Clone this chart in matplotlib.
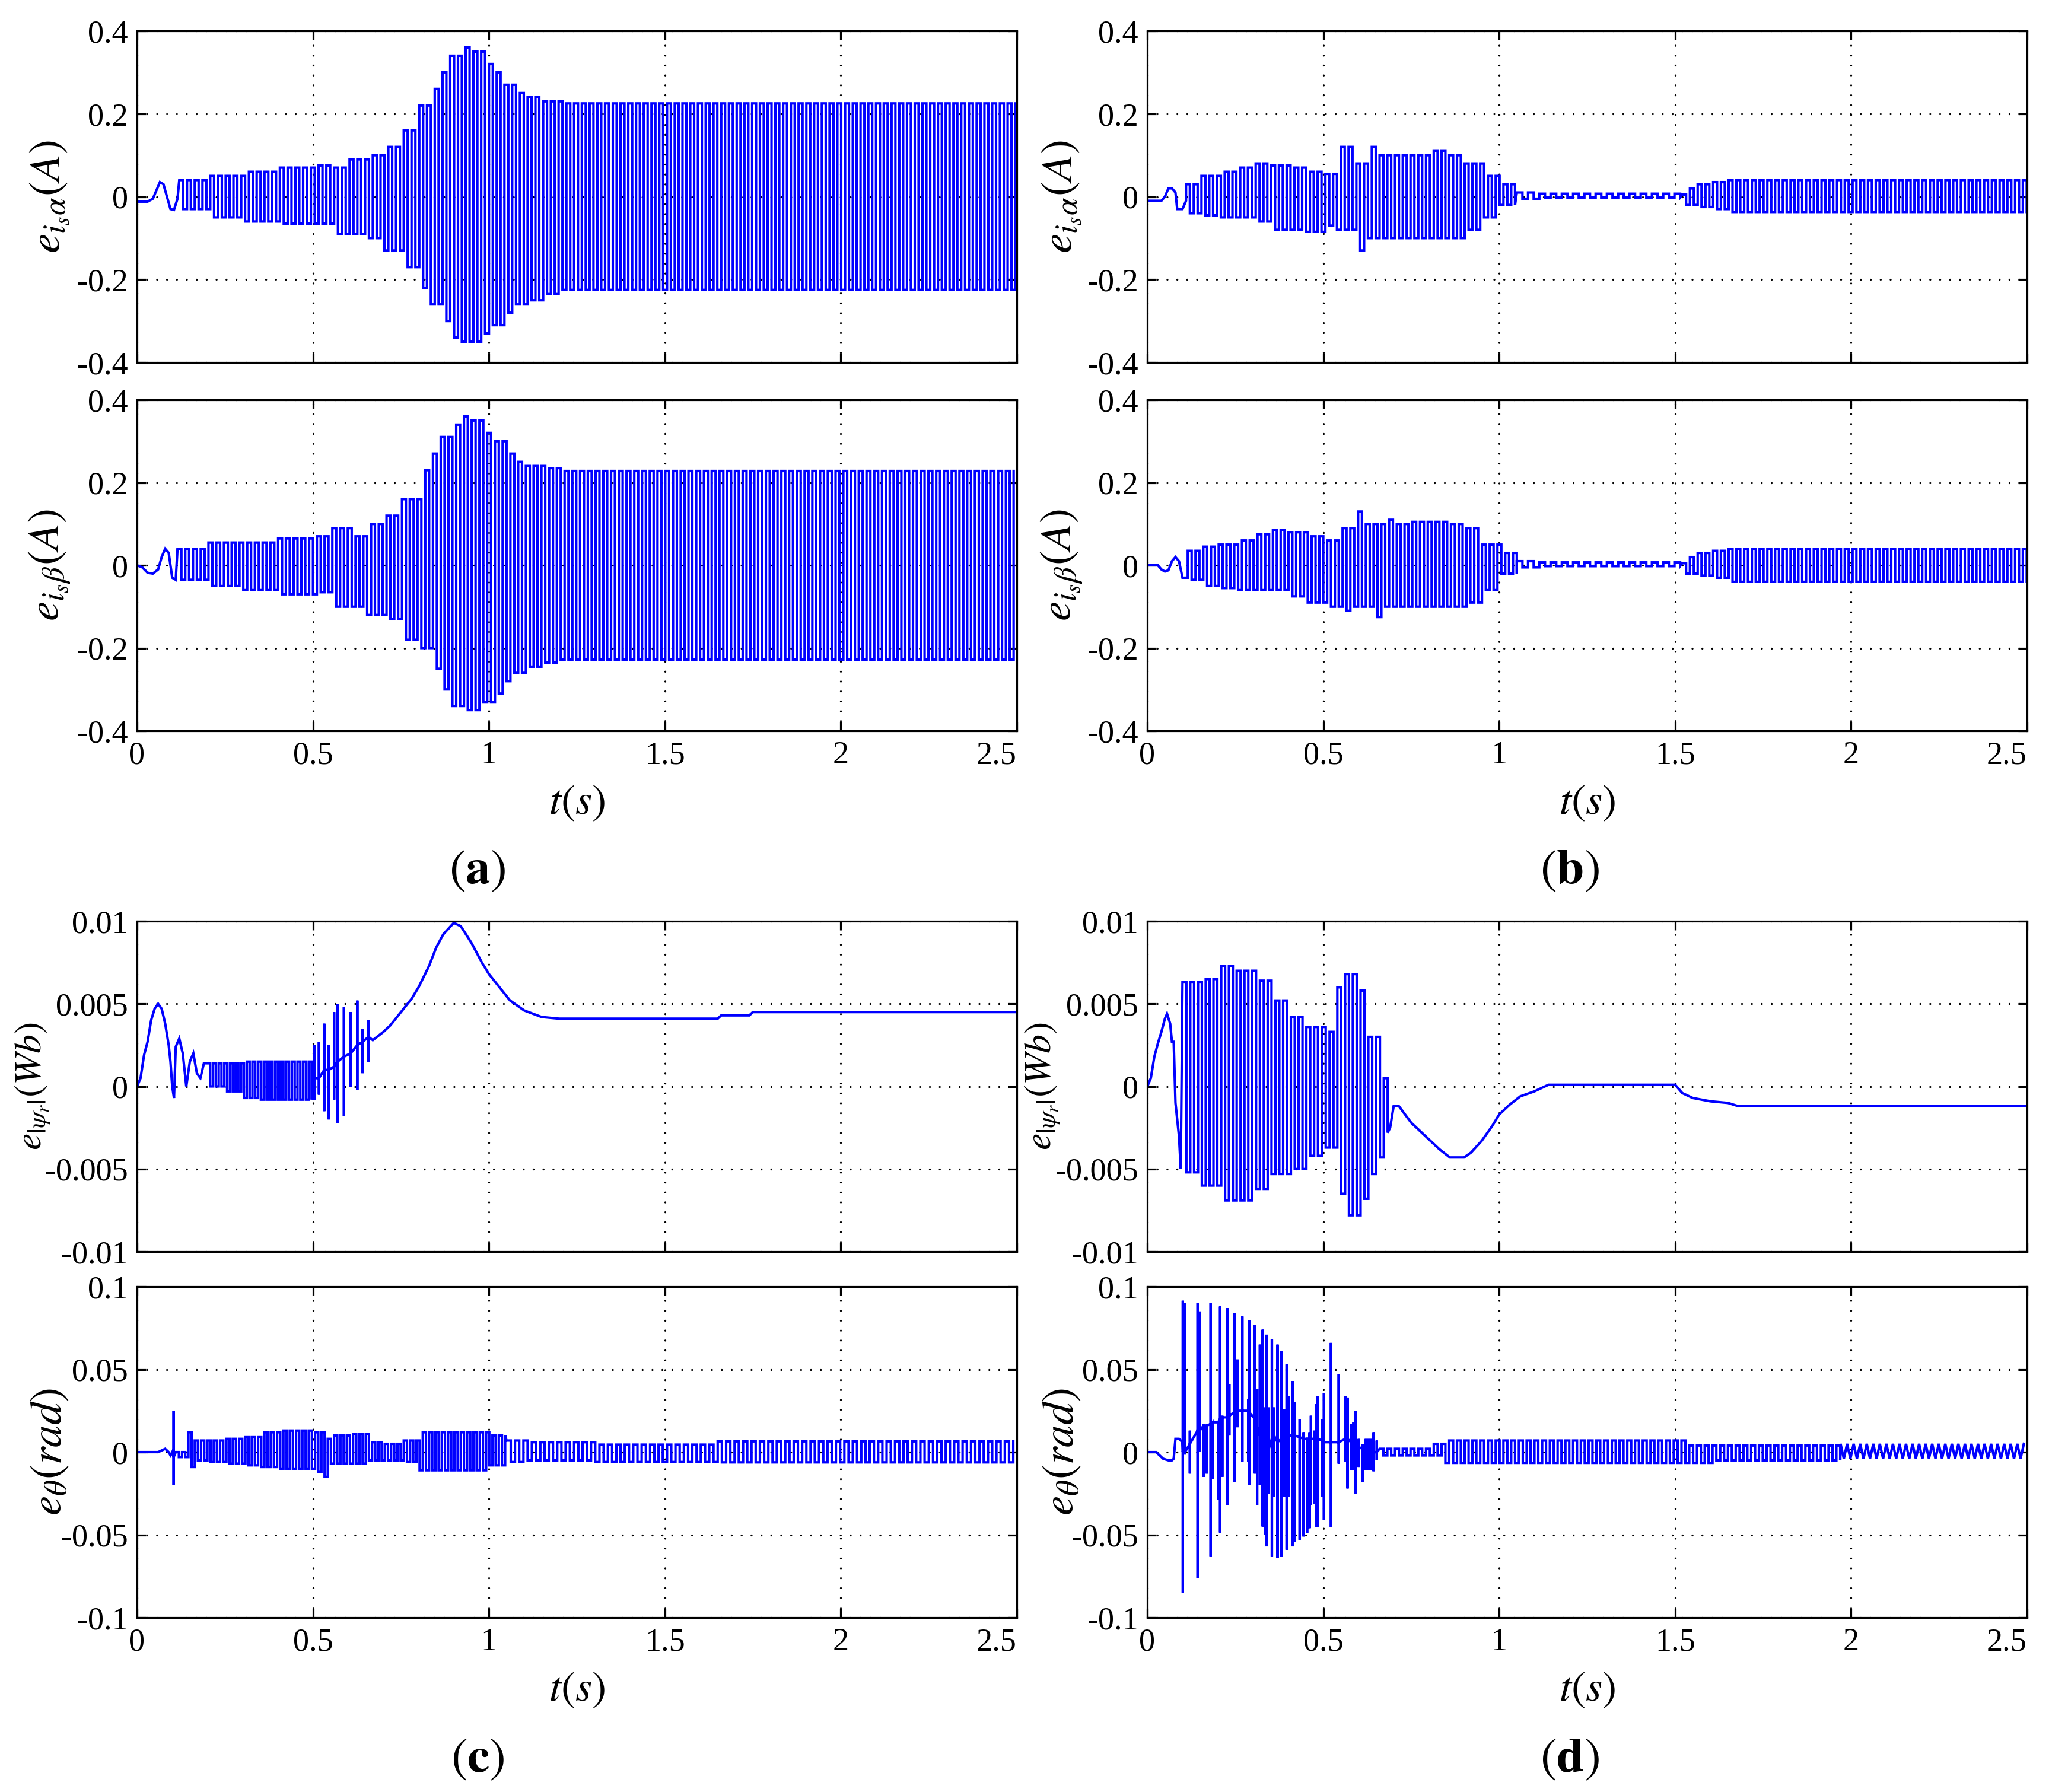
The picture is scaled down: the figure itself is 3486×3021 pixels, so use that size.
import numpy as np
import matplotlib.pyplot as plt

plt.rcParams['font.family'] = ['Liberation Serif', 'DejaVu Serif']
plt.rcParams['mathtext.fontset'] = 'stix'

# ---------------- axis ticks ----------------
t_ticks = [0, 0.5, 1, 1.5, 2, 2.5]
t_ticklabels = ['0', '0.5', '1', '1.5', '2', '2.5']
i_ticks = [-0.4, -0.2, 0, 0.2, 0.4]
i_ticklabels = ['-0.4', '-0.2', '0', '0.2', '0.4']
psi_ticks = [-0.01, -0.005, 0, 0.005, 0.01]
psi_ticklabels = ['-0.01', '-0.005', '0', '0.005', '0.01']
th_ticks = [-0.1, -0.05, 0, 0.05, 0.1]
th_ticklabels = ['-0.1', '-0.05', '0', '0.05', '0.1']

# ---------------- (a) e_i_s_alpha ----------------
a1_pre_t = [0, 0.03, 0.045, 0.055, 0.065, 0.075, 0.085, 0.095, 0.105, 0.115]
a1_pre_y = [-0.012, -0.012, -0.005, 0.015, 0.035, 0.03, 0.0, -0.03, -0.032, -0.005]
a1_env_t = [0.12, 0.2, 0.3, 0.4, 0.5, 0.55, 0.6, 0.65, 0.7, 0.75, 0.8, 0.83, 0.86,
            0.89, 0.92, 0.95, 0.98, 1.01, 1.04, 1.07, 1.1, 1.15, 1.2]
a1_env_hi = [0.04, 0.05, 0.06, 0.07, 0.075, 0.07, 0.09, 0.1, 0.12, 0.16, 0.22, 0.26, 0.3,
             0.34, 0.36, 0.35, 0.32, 0.3, 0.27, 0.25, 0.24, 0.23, 0.225]
a1_env_lo = [-0.03, -0.05, -0.06, -0.065, -0.065, -0.09, -0.09, -0.1, -0.13, -0.17, -0.22,
             -0.26, -0.3, -0.34, -0.35, -0.35, -0.33, -0.31, -0.28, -0.26, -0.25, -0.235, -0.225]

# ---------------- (a) e_i_s_beta ----------------
a2_pre_t = [0, 0.015, 0.03, 0.045, 0.06, 0.07, 0.08, 0.09, 0.1, 0.11]
a2_pre_y = [0.0, -0.005, -0.018, -0.02, -0.01, 0.02, 0.04, 0.03, -0.03, -0.035]
a2_env_t = [0.12, 0.2, 0.3, 0.4, 0.5, 0.55, 0.6, 0.65, 0.7, 0.75, 0.8, 0.83, 0.86,
            0.89, 0.92, 0.95, 0.98, 1.01, 1.04, 1.07, 1.1, 1.15, 1.2]
a2_env_hi = [0.04, 0.055, 0.055, 0.065, 0.07, 0.09, 0.07, 0.1, 0.12, 0.16, 0.23, 0.27, 0.31,
             0.34, 0.36, 0.35, 0.32, 0.3, 0.27, 0.25, 0.24, 0.235, 0.228]
a2_env_lo = [-0.035, -0.05, -0.06, -0.07, -0.065, -0.1, -0.1, -0.12, -0.13, -0.18, -0.2,
             -0.25, -0.3, -0.34, -0.35, -0.35, -0.33, -0.31, -0.28, -0.26, -0.245, -0.235, -0.228]

# ---------------- (b) e_i_s_alpha ----------------
b1_pre_t = [0, 0.04, 0.05, 0.06, 0.07, 0.08, 0.085, 0.1, 0.11]
b1_pre_y = [-0.01, -0.01, 0.0, 0.02, 0.02, 0.01, -0.03, -0.03, -0.01]
b1_env_t = [0.11, 0.15, 0.2, 0.25, 0.3, 0.35, 0.4, 0.45, 0.5, 0.53, 0.59, 0.62, 0.65,
            0.7, 0.75, 0.8, 0.85, 0.9, 0.95, 1.0, 1.05, 1.1, 1.5, 1.53, 1.56, 1.6, 1.65]
b1_env_hi = [0.03, 0.05, 0.06, 0.07, 0.08, 0.075, 0.07, 0.06, 0.055, 0.12, 0.08, 0.12, 0.1,
             0.1, 0.1, 0.11, 0.1, 0.08, 0.05, 0.03, 0.01, 0.007, 0.005, 0.02, 0.03, 0.035, 0.04]
b1_env_lo = [-0.04, -0.045, -0.05, -0.05, -0.06, -0.08, -0.08, -0.085, -0.07, -0.08, -0.13,
             -0.1, -0.1, -0.1, -0.1, -0.1, -0.1, -0.08, -0.05, -0.02, -0.005, -0.002, -0.002,
             -0.02, -0.025, -0.03, -0.037]

# ---------------- (b) e_i_s_beta ----------------
b2_pre_t = [0, 0.03, 0.04, 0.05, 0.06, 0.07, 0.08, 0.09, 0.1, 0.115]
b2_pre_y = [0.0, 0.0, -0.01, -0.015, -0.012, 0.01, 0.02, 0.01, -0.03, -0.03]
b2_env_t = [0.12, 0.15, 0.2, 0.25, 0.3, 0.35, 0.4, 0.45, 0.5, 0.55, 0.58, 0.61, 0.64,
            0.67, 0.7, 0.75, 0.8, 0.85, 0.9, 0.95, 1.0, 1.05, 1.1, 1.5, 1.53, 1.56, 1.6, 1.65]
b2_env_hi = [0.035, 0.045, 0.05, 0.06, 0.075, 0.085, 0.08, 0.07, 0.06, 0.09, 0.13, 0.1, 0.1,
             0.11, 0.1, 0.105, 0.105, 0.1, 0.09, 0.05, 0.03, 0.01, 0.007, 0.005, 0.02, 0.03,
             0.035, 0.04]
b2_env_lo = [-0.035, -0.05, -0.055, -0.06, -0.06, -0.06, -0.075, -0.09, -0.1, -0.11, -0.1,
             -0.1, -0.125, -0.1, -0.1, -0.1, -0.1, -0.1, -0.09, -0.06, -0.02, -0.005, -0.002,
             -0.002, -0.02, -0.025, -0.03, -0.04]

# ---------------- (c) e_|psi_r| ----------------
c1_pre_t = [0, 0.01, 0.02, 0.03, 0.04, 0.05, 0.06, 0.07, 0.08, 0.09, 0.095, 0.1, 0.105,
            0.11, 0.12, 0.13, 0.14, 0.15, 0.16, 0.17, 0.18, 0.19]
c1_pre_y = [0.0, 0.0005, 0.0019, 0.0027, 0.004, 0.0047, 0.005, 0.0047, 0.0038, 0.0025,
            0.0015, 0.0, -0.0007, 0.0024, 0.0029, 0.002, 0.0, 0.0015, 0.002, 0.0008, 0.0005,
            0.0014]
c1_env_t = [0.2, 0.25, 0.3, 0.35, 0.4, 0.45]
c1_env_hi = [0.0014, 0.0014, 0.0015, 0.0015, 0.0015, 0.0015]
c1_env_lo = [0.0, -0.0003, -0.0007, -0.0008, -0.0008, -0.0008]
c1_sp_t = [0.504, 0.517, 0.532, 0.545, 0.56, 0.57, 0.588, 0.607, 0.626, 0.641, 0.658]
c1_sp_hi = [0.0025, 0.0027, 0.0038, 0.0025, 0.0045, 0.005, 0.0048, 0.0045, 0.0052, 0.0035, 0.004]
c1_sp_lo = [-0.0008, -0.0005, -0.0015, -0.002, -0.0008, -0.0022, -0.0018, 0.0, -0.0002,
            0.0008, 0.0015]
c1_sp_mid = [0.0005, 0.0005, 0.001, 0.001, 0.0012, 0.0015, 0.0018, 0.002, 0.0025, 0.0027, 0.003]
c1_post_t = [0.67, 0.7, 0.72, 0.75, 0.78, 0.8, 0.83, 0.85, 0.87, 0.9, 0.92, 0.95, 0.98, 1.0,
             1.03, 1.06, 1.1, 1.15, 1.2, 1.5, 1.65, 1.66, 1.74, 1.75, 2.5]
c1_post_y = [0.0028, 0.0033, 0.0037, 0.0045, 0.0053, 0.006, 0.0073, 0.0084, 0.0092, 0.0099,
             0.0097, 0.0087, 0.0075, 0.0068, 0.006, 0.0052, 0.0046, 0.0042, 0.0041, 0.0041,
             0.0041, 0.0043, 0.0043, 0.0045, 0.0045]

# ---------------- (c) e_theta ----------------
c2_pre_t = [0, 0.06, 0.07, 0.08, 0.09, 0.095, 0.1]
c2_pre_y = [0, 0, 0.001, 0.002, 0.0, -0.002, 0.0]
c2_sp_t = [0.104]
c2_sp_hi = [0.025]
c2_sp_lo = [-0.02]
c2_sp_mid = [-0.003]
c2_env_t = [0.11, 0.14, 0.16, 0.2, 0.25, 0.3, 0.35, 0.4, 0.45, 0.5, 0.53, 0.55, 0.6, 0.65,
            0.7, 0.75, 0.8, 0.85, 0.9, 0.95, 1.0, 1.05, 1.1, 1.3, 1.6, 1.65]
c2_env_hi = [0.0, 0.012, 0.007, 0.007, 0.008, 0.009, 0.012, 0.013, 0.013, 0.012, 0.008, 0.01,
             0.011, 0.006, 0.005, 0.007, 0.012, 0.012, 0.012, 0.012, 0.01, 0.007, 0.006,
             0.0045, 0.0045, 0.0065]
c2_env_lo = [-0.003, -0.009, -0.005, -0.006, -0.007, -0.008, -0.009, -0.01, -0.01, -0.012,
             -0.015, -0.007, -0.007, -0.005, -0.005, -0.006, -0.011, -0.011, -0.011, -0.011,
             -0.008, -0.006, -0.005, -0.006, -0.006, -0.0062]

# ---------------- (d) e_|psi_r| ----------------
d1_pre_t = [0, 0.01, 0.02, 0.03, 0.04, 0.05, 0.056, 0.065, 0.07, 0.075, 0.08, 0.09, 0.095]
d1_pre_y = [0.0, 0.0005, 0.0018, 0.0026, 0.0033, 0.0041, 0.0044, 0.0038, 0.0027, 0.0027,
            -0.001, -0.003, -0.005]
d1_env_t = [0.1, 0.15, 0.2, 0.25, 0.3, 0.35, 0.4, 0.45, 0.5, 0.53, 0.56, 0.6, 0.625, 0.65, 0.67]
d1_env_hi = [0.0063, 0.0065, 0.0073, 0.007, 0.0064, 0.0052, 0.0042, 0.0036, 0.0033, 0.006,
             0.0068, 0.0058, 0.003, 0.0028, 0.0005]
d1_env_lo = [-0.0052, -0.006, -0.0069, -0.0069, -0.0062, -0.0053, -0.005, -0.0042, -0.0037,
             -0.0065, -0.0078, -0.0068, -0.0053, -0.0043, -0.0028]
d1_post_t = [0.69, 0.7, 0.715, 0.75, 0.8, 0.83, 0.86, 0.9, 0.92, 0.95, 0.98, 1.0, 1.03, 1.06,
             1.1, 1.14, 1.5, 1.52, 1.55, 1.6, 1.65, 1.68, 2.5]
d1_post_y = [-0.0025, -0.0012, -0.0012, -0.0022, -0.0032, -0.0038, -0.0043, -0.0043, -0.004,
             -0.0033, -0.0024, -0.0017, -0.0011, -0.0006, -0.0003, 0.0001, 0.0001, -0.0004,
             -0.0007, -0.0009, -0.001, -0.0012, -0.0012]

# ---------------- (d) e_theta ----------------
d2_pre_t = [0, 0.025, 0.035, 0.045, 0.06, 0.07, 0.075, 0.08, 0.09, 0.1]
d2_pre_y = [0, 0, -0.002, -0.004, -0.005, -0.005, -0.004, 0.008, 0.008, 0.006]
d2_sp_t = [0.101, 0.107, 0.121, 0.143, 0.149, 0.16, 0.169, 0.18, 0.185, 0.201,
           0.207, 0.213, 0.228, 0.233, 0.247, 0.256, 0.27, 0.287, 0.29, 0.306,
           0.312, 0.32, 0.328, 0.334, 0.339, 0.345, 0.354, 0.36, 0.37, 0.381,
           0.389, 0.396, 0.402, 0.413, 0.419, 0.433, 0.444, 0.454, 0.461, 0.465,
           0.475, 0.48, 0.484, 0.497, 0.502, 0.522, 0.544, 0.563, 0.569, 0.579,
           0.586, 0.591, 0.601, 0.612, 0.621, 0.628, 0.635, 0.643, 0.652]
d2_sp_hi = [0.0915, 0.09, 0.013, 0.09, 0.085, 0.017, 0.016, 0.09, 0.018, 0.018,
            0.088, 0.022, 0.087, 0.041, 0.084, 0.056, 0.082, 0.032, 0.0795, 0.077,
            0.038, 0.065, 0.074, 0.027, 0.071, 0.027, 0.068, 0.027, 0.065, 0.061,
            0.026, 0.053, 0.034, 0.043, 0.03, 0.02, 0.012, 0.0, 0.012, 0.022,
            0.013, 0.029, 0.034, 0.02, 0.0356, 0.066, 0.047, 0.034, 0.033, 0.017,
            0.018, 0.025, 0.008, 0.005, 0.008, 0.008, 0.008, 0.012, 0.007]
d2_sp_lo = [-0.085, -0.0015, -0.013, -0.076, 0.0, -0.015, -0.013, -0.063, -0.016, -0.0285,
            -0.0486, -0.015, -0.032, 0.01, -0.018, 0.015, -0.006, -0.006, -0.02, -0.013,
            -0.032, -0.02, -0.045, -0.05, -0.057, -0.025, -0.063, -0.027, -0.064, -0.063,
            -0.027, -0.059, -0.027, -0.057, -0.054, -0.053, -0.051, -0.049, -0.046, -0.032,
            -0.031, -0.045, -0.045, -0.027, -0.041, -0.0455, -0.007, -0.006, -0.022, -0.011,
            -0.011, -0.025, -0.009, -0.018, -0.011, -0.011, -0.011, -0.0116, -0.005]
d2_sp_mid = [0.0, 0.0, 0.005, 0.013, 0.013, 0.016, 0.016, 0.017, 0.018, 0.018,
             0.02, 0.021, 0.021, 0.022, 0.024, 0.025, 0.025, 0.025, 0.024, 0.02,
             0.015, 0.01, 0.005, 0.0, 0.005, 0.002, 0.008, 0.01, 0.006, 0.008,
             0.01, 0.01, 0.01, 0.01, 0.01, 0.009, 0.008, 0.008, 0.008, 0.008,
             0.008, 0.008, 0.008, 0.007, 0.006, 0.006, 0.006, 0.008, 0.008, 0.006,
             0.006, 0.005, 0.003, 0.002, 0.0, 0.0, 0.0, 0.0, 0.0]
d2_env_t = [0.66, 0.81, 0.845, 1.52, 1.6, 1.97]
d2_env_hi = [0.002, 0.005, 0.007, 0.004, 0.004, 0.005]
d2_env_lo = [-0.002, -0.002, -0.0065, -0.0065, -0.005, -0.004]


def env_levels(env_t, env_hi, env_lo, t0, t1, step):
    # switching instants of the ripple; each takes the envelope value read for its interval
    s = np.arange(t0, t1, step)
    k = np.clip(np.searchsorted(env_t, s, side='right') - 1, 0, len(env_t) - 1)
    lvl = np.where(np.arange(s.size) % 2 == 0, np.take(env_hi, k), np.take(env_lo, k))
    return s, lvl


def square(env_t, env_hi, env_lo, t0, t1, step):
    s, lvl = env_levels(env_t, env_hi, env_lo, t0, t1, step)
    return np.repeat(s, 2)[1:], np.repeat(lvl, 2)[:-1]


def zigzag(env_t, env_hi, env_lo, t0, t1, step):
    return env_levels(env_t, env_hi, env_lo, t0, t1, step)


def spikes(t, hi, lo, mid):
    return np.repeat(t, 4), np.column_stack([mid, hi, lo, mid]).ravel()


def join(*parts):
    return (np.concatenate([np.asarray(p[0], float) for p in parts]),
            np.concatenate([np.asarray(p[1], float) for p in parts]))


sig_a1 = join((a1_pre_t, a1_pre_y), square(a1_env_t, a1_env_hi, a1_env_lo, 0.12, 2.5, 0.011))
sig_a2 = join((a2_pre_t, a2_pre_y), square(a2_env_t, a2_env_hi, a2_env_lo, 0.115, 2.5, 0.011))
sig_b1 = join((b1_pre_t, b1_pre_y),
              square(b1_env_t, b1_env_hi, b1_env_lo, 0.11, 1.05, 0.011),
              square(b1_env_t, b1_env_hi, b1_env_lo, 1.05, 1.52, 0.016),
              square(b1_env_t, b1_env_hi, b1_env_lo, 1.52, 2.5, 0.011))
sig_b2 = join((b2_pre_t, b2_pre_y),
              square(b2_env_t, b2_env_hi, b2_env_lo, 0.115, 1.05, 0.011),
              square(b2_env_t, b2_env_hi, b2_env_lo, 1.05, 1.52, 0.016),
              square(b2_env_t, b2_env_hi, b2_env_lo, 1.52, 2.5, 0.011))
sig_c1 = join((c1_pre_t, c1_pre_y),
              square(c1_env_t, c1_env_hi, c1_env_lo, 0.2, 0.5, 0.008),
              spikes(c1_sp_t, c1_sp_hi, c1_sp_lo, c1_sp_mid),
              (c1_post_t, c1_post_y))
sig_c2 = join((c2_pre_t, c2_pre_y),
              spikes(c2_sp_t, c2_sp_hi, c2_sp_lo, c2_sp_mid),
              square(c2_env_t, c2_env_hi, c2_env_lo, 0.11, 1.05, 0.009),
              square(c2_env_t, c2_env_hi, c2_env_lo, 1.05, 2.5, 0.012))
sig_d1 = join((d1_pre_t, d1_pre_y),
              square(d1_env_t, d1_env_hi, d1_env_lo, 0.1, 0.69, 0.011),
              (d1_post_t, d1_post_y))
sig_d2 = join((d2_pre_t, d2_pre_y),
              spikes(d2_sp_t, d2_sp_hi, d2_sp_lo, d2_sp_mid),
              square(d2_env_t, d2_env_hi, d2_env_lo, 0.66, 1.97, 0.011),
              zigzag(d2_env_t, d2_env_hi, d2_env_lo, 1.97, 2.5, 0.0093))

W, H = 3487, 3021
fig = plt.figure(figsize=(W / 100, H / 100), dpi=100)

col_x = [231, 1934]
col_w = 1483
row_y = [(52, 611), (674, 1232), (1553, 2110), (2169, 2727)]

# (row, col, signal, ticks, tick labels, y label, y label size, y label x in px)
panels = [
    (0, 0, sig_a1, i_ticks, i_ticklabels, r'$e_{i_s\alpha}(A)$', 54, 84),
    (1, 0, sig_a2, i_ticks, i_ticklabels, r'$e_{i_s\beta}(A)$', 54, 84),
    (0, 1, sig_b1, i_ticks, i_ticklabels, r'$e_{i_s\alpha}(A)$', 54, 1790),
    (1, 1, sig_b2, i_ticks, i_ticklabels, r'$e_{i_s\beta}(A)$', 54, 1790),
    (2, 0, sig_c1, psi_ticks, psi_ticklabels, r'$e_{|\psi_r|}(Wb)$', 46, 56),
    (3, 0, sig_c2, th_ticks, th_ticklabels, r'$e_{\theta}(rad)$', 54, 84),
    (2, 1, sig_d1, psi_ticks, psi_ticklabels, r'$e_{|\psi_r|}(Wb)$', 46, 1758),
    (3, 1, sig_d2, th_ticks, th_ticklabels, r'$e_{\theta}(rad)$', 54, 1790),
]

for row, col, (tx, ty), yt, ytl, ylab, yfs, yx in panels:
    top, bot = row_y[row]
    ax = fig.add_axes([col_x[col] / W, 1 - bot / H, col_w / W, (bot - top) / H])
    ax.plot(tx, ty, color='#0000ff', lw=3.0, solid_joinstyle='miter')
    ax.set_xlim(0, 2.5)
    ax.set_ylim(yt[0], yt[-1])
    ax.set_xticks(t_ticks)
    ax.set_yticks(yt)
    ax.set_yticklabels(ytl)
    if row in (1, 3):
        ax.set_xticklabels(t_ticklabels)
        ax.get_xticklabels()[-1].set_ha('right')
    else:
        ax.set_xticklabels([])
    ax.grid(True, color='black', linestyle=(0, (0.01, 5)), lw=2.4, dash_capstyle='round')
    ax.tick_params(direction='in', length=11, width=2.3, top=True, right=True,
                   labelsize=39, color='black')
    ax.tick_params(axis='x', pad=12)
    ax.tick_params(axis='y', pad=11)
    for sp in ax.spines.values():
        sp.set_linewidth(2.3)
    fig.text(yx / W, 1 - (top + bot) / 2 / H, ylab, rotation=90,
             ha='center', va='center', fontsize=yfs)

# x labels and panel captions
for col, xc in enumerate([972, 2675]):
    for yy in (1355, 2850):
        fig.text(xc / W, 1 - yy / H, r'$t(s)$', ha='center', va='center', fontsize=52)
captions = [('a', 805, 1470), ('b', 2646, 1470), ('c', 805, 2968), ('d', 2646, 2968)]
for lab, xc, yy in captions:
    fig.text(xc / W, 1 - yy / H, r'$(\mathbf{%s})$' % lab, ha='center', va='center',
             fontsize=60)

fig.savefig('out.png', dpi=100)
